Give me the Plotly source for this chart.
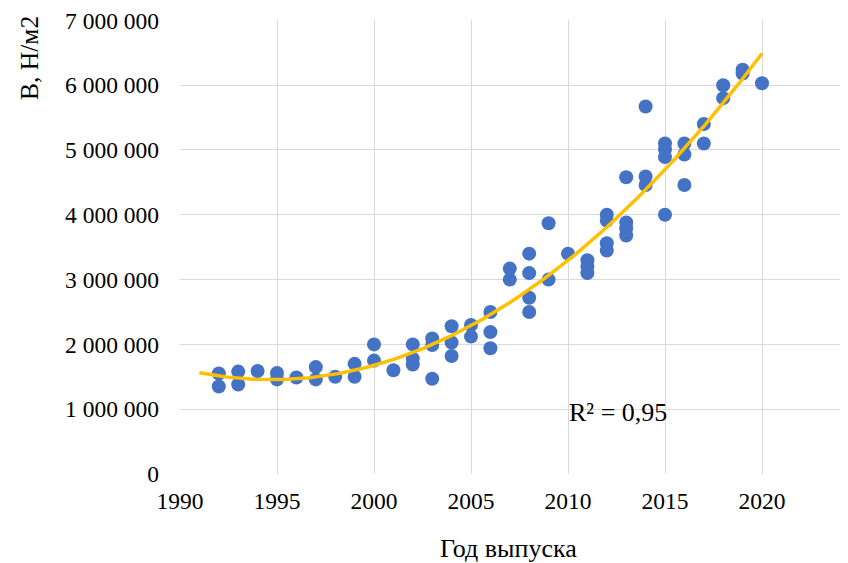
import numpy as np
import plotly.graph_objects as go

years = [1992, 1992, 1993, 1993, 1994, 1995, 1995, 1996, 1997, 1997, 1998, 1999, 1999,
         2000, 2000, 2001, 2002, 2002, 2002, 2003, 2003, 2003, 2004, 2004, 2004,
         2005, 2005, 2006, 2006, 2006, 2007, 2007, 2008, 2008, 2008, 2008, 2009, 2009,
         2010, 2011, 2011, 2011, 2012, 2012, 2012, 2012, 2013, 2013, 2013, 2013,
         2014, 2014, 2014, 2015, 2015, 2015, 2015, 2016, 2016, 2016, 2017, 2017,
         2018, 2018, 2019, 2019, 2020]
values_m = [1.55, 1.35, 1.58, 1.38, 1.59, 1.56, 1.46, 1.49, 1.65, 1.46, 1.50, 1.70, 1.50,
            2.00, 1.75, 1.60, 2.00, 1.78, 1.69, 2.09, 1.99, 1.47, 2.28, 2.03, 1.82,
            2.30, 2.12, 2.50, 2.19, 1.94, 3.17, 3.00, 3.40, 3.10, 2.72, 2.50, 3.87, 3.00,
            3.40, 3.30, 3.20, 3.10, 4.00, 3.91, 3.56, 3.45, 4.58, 3.88, 3.79, 3.68,
            5.67, 4.59, 4.46, 5.10, 5.01, 4.89, 4.00, 5.10, 4.93, 4.46, 5.40, 5.10,
            6.00, 5.80, 6.24, 6.18, 6.03]
values = [v * 1e6 for v in values_m]

x_ticks = [1990, 1995, 2000, 2005, 2010, 2015, 2020]
y_ticks = [0, 1e6, 2e6, 3e6, 4e6, 5e6, 6e6, 7e6]
x_title = "Год выпуска"
y_title = "В, Н/м2"
r2_label = "R² = 0,95"

coef = np.polyfit(years, values, 2)
tx = np.linspace(1991, 2020, 200)
ty = np.polyval(coef, tx)

font = "Liberation Serif, Times New Roman, serif"

# page has an 8px body margin; figure is offset accordingly
L, T, B, R = 172, 12, 89, 0
W, H = 840, 555
pw, ph = W - L - R, H - T - B
ymax = 7.006e6

fig = go.Figure()
fig.add_trace(go.Scatter(x=years, y=values, mode="markers",
                         marker=dict(color="#4472C4", size=14, line=dict(width=0)),
                         showlegend=False))
fig.add_trace(go.Scatter(x=tx, y=ty, mode="lines",
                         line=dict(color="#FFC000", width=3.5),
                         showlegend=False))

fig.update_layout(
    width=W, height=H,
    margin=dict(l=L, r=R, t=T, b=B),
    paper_bgcolor="white", plot_bgcolor="white",
    separators=", ",
    font=dict(family=font, size=23, color="black"),
    xaxis=dict(range=[1990, 1990 + pw / 19.4], tickvals=x_ticks,
               showgrid=True, gridcolor="#d9d9d9", gridwidth=1,
               zeroline=False, showline=False, ticks="",
               tickfont=dict(size=23.5), ticklabelstandoff=10),
    yaxis=dict(range=[0, ymax], tickvals=y_ticks, tickformat=",d",
               showgrid=True, gridcolor="#d9d9d9", gridwidth=1,
               zeroline=False, showline=False, ticks="",
               tickfont=dict(size=23.5), ticklabelstandoff=20,
               ticklabeloverflow="allow"),
    annotations=[
        dict(text=x_title, xref="paper", yref="paper", x=(500 - L) / pw, y=-(540 - (H - B)) / ph,
             showarrow=False, font=dict(size=26), xanchor="center", yanchor="middle"),
        dict(text=y_title, xref="paper", yref="paper", x=-(L - 22) / pw, y=((H - B) - 50) / ph,
             showarrow=False, font=dict(size=25.5), textangle=-90, xanchor="center", yanchor="middle"),
        dict(text=r2_label, x=2012.58, y=0.956e6, xref="x", yref="y",
             showarrow=False, font=dict(size=26), xanchor="center", yanchor="middle"),
    ],
)

fig.write_html("out.html")
